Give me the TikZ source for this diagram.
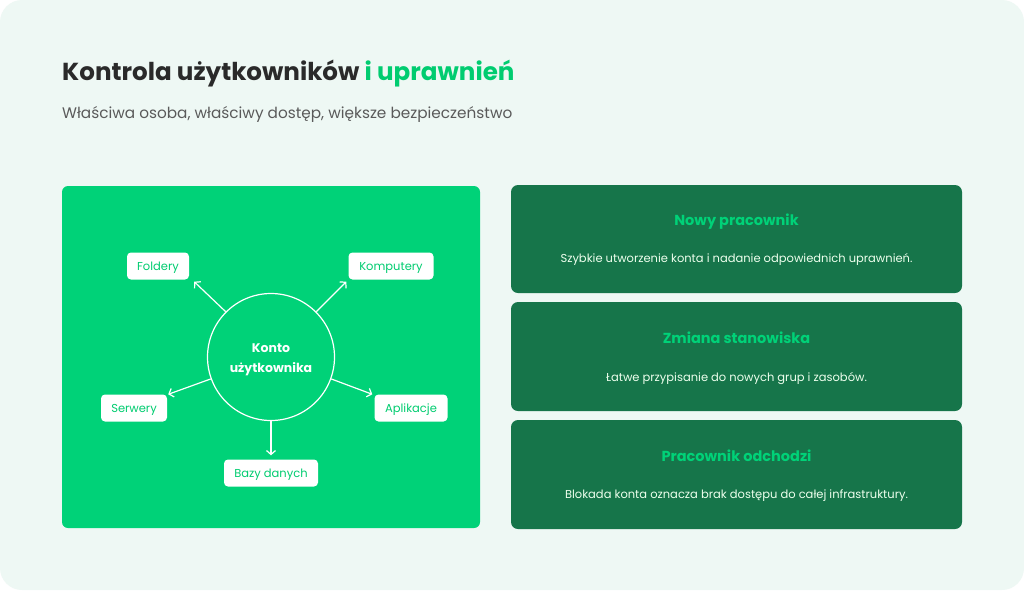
\documentclass[tikz,border=0pt]{standalone}
\usepackage{fontspec}
\setmainfont{Poppins}
\usetikzlibrary{arrows.meta}
\definecolor{bgmint}{HTML}{EEF8F4}
\definecolor{brightgreen}{HTML}{00D278}
\definecolor{textgreen}{HTML}{00CC70}
\definecolor{darkcard}{HTML}{16754A}
\definecolor{titledark}{HTML}{2A2A2A}
\definecolor{subgray}{HTML}{5A5A5A}
\tikzset{
  leaf/.style={fill=white, rounded corners=4pt, text=textgreen, minimum height=27pt, inner sep=0pt, text height=8pt, text depth=0pt, font=\fontsize{11.5}{14}\selectfont},
  arr/.style={draw=white, line width=1.2pt, -{Straight Barb[length=4pt,width=9pt]}},
  card/.style={fill=darkcard, rounded corners=7pt, draw=none},
  cardtitle/.style={text=brightgreen, font=\fontsize{14.5}{17}\selectfont\bfseries, anchor=base},
  cardbody/.style={text=white!93!green, font=\fontsize{11.5}{14}\selectfont, anchor=base},
}
\begin{document}
\begin{tikzpicture}[x=1pt,y=-1pt]
\useasboundingbox (0,0) rectangle (1024,590);
\fill[white] (0,0) rectangle (1024,590);
\fill[bgmint, rounded corners=22pt] (0,0) rectangle (1024,590);
% title
\node[anchor=base west, inner sep=0pt, font=\fontsize{24.6}{30}\selectfont\bfseries] (title) at (62,80)
  {\color{titledark}Kontrola użytkowników \color{textgreen}i uprawnień};
\node[anchor=base west, inner sep=0pt, text=subgray, font=\fontsize{15.3}{19}\selectfont] (sub) at (62,118)
  {Właściwa osoba, właściwy dostęp, większe bezpieczeństwo};
% left panel
\fill[brightgreen, rounded corners=6pt] (62,186) rectangle (480,528);
\node[circle, draw=white, line width=1.2pt, minimum size=127pt, inner sep=0pt] (k) at (271,357) {};
\node[align=center, text=white, font=\fontsize{12.5}{20}\selectfont\bfseries] (klabel) at (271,360) {Konto\\użytkownika};
\node[leaf, minimum width=62pt] (fold) at (158,266) {Foldery};
\node[leaf, minimum width=85pt] (komp) at (391,266) {Komputery};
\node[leaf, minimum width=66pt] (serw) at (134,408) {Serwery};
\node[leaf, minimum width=73pt] (apl) at (411,408) {Aplikacje};
\node[leaf, minimum width=94pt] (baz) at (271,473) {Bazy danych};
\draw[arr] (k.135) -- ([shift={(5,2)}]fold.south east);
\draw[arr] (k.45) -- ([shift={(-2,2)}]komp.south west);
\draw[arr] (k.200) -- ([shift={(1,0)}]serw.north east);
\draw[arr] (k.340) -- ([shift={(-2,0)}]apl.north west);
\draw[arr] (k.south) -- ([shift={(0,-4)}]baz.north);
% right cards
\path[card] (511,185) rectangle (962,293);
\path[card] (511,302) rectangle (962,411);
\path[card] (511,420) rectangle (962,529);
\node[cardtitle] (t1) at (736.5,225) {Nowy pracownik};
\node[cardbody] (b1) at (736.5,262) {Szybkie utworzenie konta i nadanie odpowiednich uprawnień.};
\node[cardtitle] (t2) at (736.5,343) {Zmiana stanowiska};
\node[cardbody] (b2) at (736.5,381) {Łatwe przypisanie do nowych grup i zasobów.};
\node[cardtitle] (t3) at (736.5,461) {Pracownik odchodzi};
\node[cardbody] (b3) at (736.5,498) {Blokada konta oznacza brak dostępu do całej infrastruktury.};
\end{tikzpicture}
\end{document}
